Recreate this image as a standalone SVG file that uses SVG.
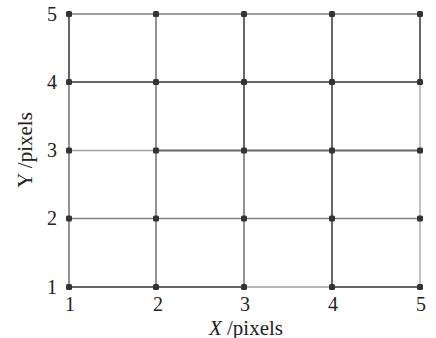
<svg xmlns="http://www.w3.org/2000/svg" width="436" height="338" viewBox="0 0 436 338">
<style>
.g{stroke:#808080;stroke-width:1.7;fill:none}
.d{stroke:#666;stroke-width:2}
.l{stroke:#a0a0a0;stroke-width:1.3}
.p{fill:#333}
.t{font-family:"Liberation Serif","DejaVu Serif",serif;font-size:20px;fill:#222;text-anchor:middle}
.a{font-size:21px}
</style>
<rect width="436" height="338" fill="#fff"/>
<g id="connectors" class="g">
<line x1="69" y1="14" x2="420" y2="14"/>
<line x1="69" y1="82" x2="420" y2="82" class="g d"/>
<line x1="69" y1="150.5" x2="156" y2="150.5" class="g l"/>
<line x1="156" y1="150.5" x2="420" y2="150.5" class="g d"/>
<line x1="69" y1="218.5" x2="420" y2="218.5"/>
<line x1="69" y1="287" x2="244" y2="287" class="g d"/>
<line x1="244" y1="287" x2="332" y2="287" class="g l"/>
<line x1="332" y1="287" x2="420" y2="287" class="g d"/>
<line x1="69" y1="14" x2="69" y2="82" class="g d"/>
<line x1="69" y1="82" x2="69" y2="287"/>
<line x1="156" y1="14" x2="156" y2="287"/>
<line x1="244" y1="14" x2="244" y2="150.5" class="g d"/>
<line x1="244" y1="150.5" x2="244" y2="287"/>
<line x1="332" y1="14" x2="332" y2="287" class="g d"/>
<line x1="420" y1="14" x2="420" y2="82" class="g d"/>
<line x1="420" y1="82" x2="420" y2="287" class="g l"/>
</g>
<g id="nodes" class="p">
<g id="n11"><rect x="66" y="284" width="6" height="6" rx="1.5"/></g>
<g id="n21"><rect x="153" y="284" width="6" height="6" rx="1.5"/></g>
<g id="n31"><rect x="241" y="284" width="6" height="6" rx="1.5"/></g>
<g id="n41"><rect x="329" y="284" width="6" height="6" rx="1.5"/></g>
<g id="n51"><rect x="417" y="284" width="6" height="6" rx="1.5"/></g>
<g id="n12"><rect x="66" y="215.5" width="6" height="6" rx="1.5"/></g>
<g id="n22"><rect x="153" y="215.5" width="6" height="6" rx="1.5"/></g>
<g id="n32"><rect x="241" y="215.5" width="6" height="6" rx="1.5"/></g>
<g id="n42"><rect x="329" y="215.5" width="6" height="6" rx="1.5"/></g>
<g id="n52"><rect x="417" y="215.5" width="6" height="6" rx="1.5"/></g>
<g id="n13"><rect x="66" y="147.5" width="6" height="6" rx="1.5"/></g>
<g id="n23"><rect x="153" y="147.5" width="6" height="6" rx="1.5"/></g>
<g id="n33"><rect x="241" y="147.5" width="6" height="6" rx="1.5"/></g>
<g id="n43"><rect x="329" y="147.5" width="6" height="6" rx="1.5"/></g>
<g id="n53"><rect x="417" y="147.5" width="6" height="6" rx="1.5"/></g>
<g id="n14"><rect x="66" y="79" width="6" height="6" rx="1.5"/></g>
<g id="n24"><rect x="153" y="79" width="6" height="6" rx="1.5"/></g>
<g id="n34"><rect x="241" y="79" width="6" height="6" rx="1.5"/></g>
<g id="n44"><rect x="329" y="79" width="6" height="6" rx="1.5"/></g>
<g id="n54"><rect x="417" y="79" width="6" height="6" rx="1.5"/></g>
<g id="n15"><rect x="66" y="11" width="6" height="6" rx="1.5"/></g>
<g id="n25"><rect x="153" y="11" width="6" height="6" rx="1.5"/></g>
<g id="n35"><rect x="241" y="11" width="6" height="6" rx="1.5"/></g>
<g id="n45"><rect x="329" y="11" width="6" height="6" rx="1.5"/></g>
<g id="n55"><rect x="417" y="11" width="6" height="6" rx="1.5"/></g>
</g>
<g id="labels" class="t">
<text x="52" y="20.5">5</text>
<text x="52" y="88.5">4</text>
<text x="52" y="157">3</text>
<text x="52" y="225">2</text>
<text x="52" y="293.5">1</text>
<text x="70" y="310.5">1</text>
<text x="158" y="310.5">2</text>
<text x="245" y="310.5">3</text>
<text x="333" y="310.5">4</text>
<text x="421" y="310.5">5</text>
<text class="a" x="246" y="334.5"><tspan font-style="italic">X</tspan> /pixels</text>
<text class="a" transform="translate(32,150) rotate(-90)">Y /pixels</text>
</g>
</svg>
